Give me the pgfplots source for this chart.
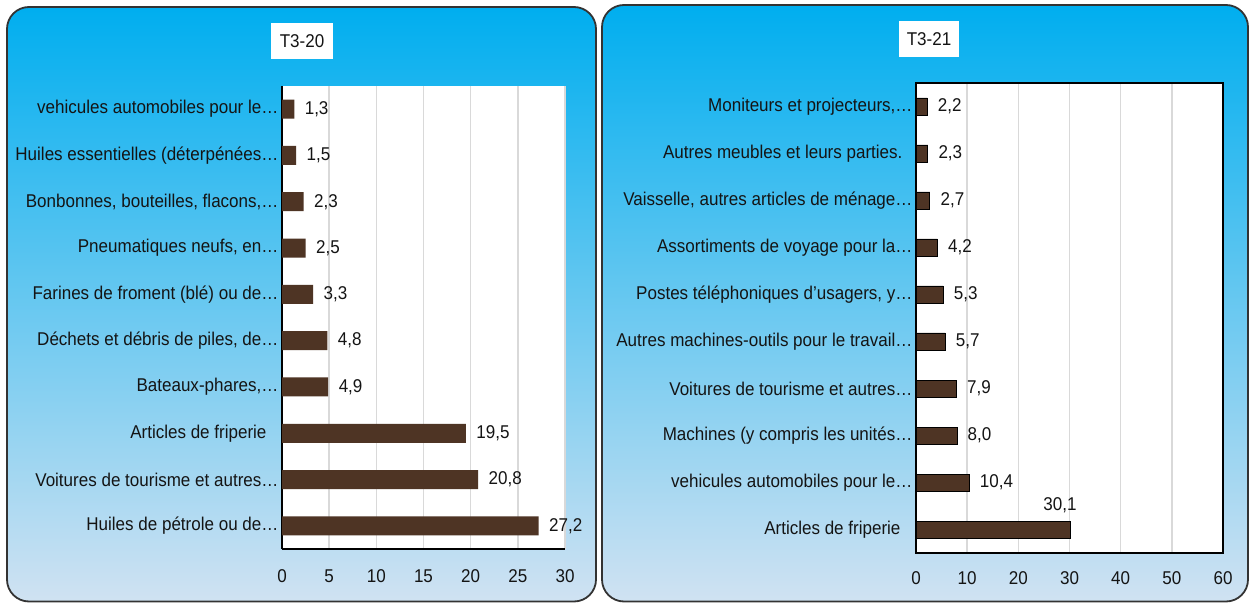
\documentclass[border=0pt]{standalone}
\usepackage{fontspec}
\setmainfont[FakeStretch=0.92]{Liberation Sans}
\usepackage{pgfplots}
\usepackage{pgfplotstable}
\pgfplotsset{compat=1.18}
\newcommand\fs{\fontsize{18.5}{21}\selectfont}
\definecolor{barbrown}{RGB}{78,52,36}
\definecolor{gridgray}{RGB}{217,217,217}
\definecolor{topblue}{RGB}{0,174,239}
\definecolor{botblue}{RGB}{208,226,242}
\definecolor{txt}{RGB}{20,20,20}

\pgfplotstableread{
i v
0 27.2
1 20.8
2 19.5
3 4.9
4 4.8
5 3.3
6 2.5
7 2.3
8 1.5
9 1.3
}\lefttab

\pgfplotstableread{
i v
1 10.4
2 8.0
3 7.9
4 5.7
5 5.3
6 4.2
7 2.7
8 2.3
9 2.2
}\righttab

\pgfplotstableread{
i v
0 30.1
}\righttop

\pgfplotsset{
  mystyle/.style={
    scale only axis,
    /pgf/number format/assume math mode=true,
    axis background/.style={fill=white},
    xmajorgrids,
    grid style={line width=1.5pt, color=gridgray},
    major tick length=0pt,
    ymin=-0.5, ymax=9.5,
    ytick={0,...,9},
    every tick label/.append style={font=\fs, text=txt},
    clip=false,
  },
  lbl/.style={nodes near coords={\pgfmathprintnumber[fixed,fixed zerofill,precision=1,use comma]{\pgfplotspointmeta}},
    every node near coord/.append style={font=\fs, text=txt}},
}

\begin{document}
\begin{tikzpicture}
\path (0pt,0pt) rectangle (1250pt,603pt);
\draw[rounded corners=22pt, top color=topblue, bottom color=botblue, draw=black!80, line width=1.8pt]
  (7pt,1.5pt) rectangle (596pt,596pt);
\draw[rounded corners=22pt, top color=topblue, bottom color=botblue, draw=black!80, line width=1.8pt]
  (602pt,1.5pt) rectangle (1248pt,598pt);
\node[fill=white, minimum width=62pt, minimum height=36pt, inner sep=0pt, font=\fs, text=txt] at (302pt,562pt) {T3-20};
\node[fill=white, minimum width=60pt, minimum height=36pt, inner sep=0pt, font=\fs, text=txt] at (929pt,564pt) {T3-21};

\begin{axis}[mystyle,
  at={(282pt,54pt)}, anchor=south west,
  width=283pt, height=463pt,
  xmin=0, xmax=30, xtick={0,5,...,30},
  axis x line=bottom, axis y line=left,
  axis line style={-, black, line width=1.2pt},
  xticklabel style={yshift=-17pt},
  yticklabels={{Huiles de pétrole ou de…},{Voitures de tourisme et autres…},{Articles de friperie\hspace*{12pt}},{Bateaux-phares,…},{Déchets et débris de piles, de…},{Farines de froment (blé) ou de…},{Pneumatiques neufs, en…},{Bonbonnes, bouteilles, flacons,…},{Huiles essentielles (déterpénées…},{vehicules automobiles pour le…}},
]
\addplot[xbar, bar shift=0pt, bar width=19pt, fill=barbrown, draw=none, lbl,
  every node near coord/.append style={anchor=west, xshift=7pt}]
  table[x=v,y=i]{\lefttab};
\end{axis}

\begin{axis}[mystyle,
  at={(916pt,50pt)}, anchor=south west,
  width=307pt, height=470pt,
  xmin=0, xmax=60, xtick={0,10,...,60},
  axis line style={black, line width=1.5pt},
  xticklabel style={yshift=-15pt},
  yticklabels={{Articles de friperie\hspace*{12pt}},{vehicules automobiles pour le…},{Machines (y compris les unités…},{Voitures de tourisme et autres…},{Autres machines-outils pour le travail…},{Postes téléphoniques d'usagers, y…},{Assortiments de voyage pour la…},{Vaisselle, autres articles de ménage…},{Autres meubles et leurs parties.\hspace*{10pt}},{Moniteurs et projecteurs,…}},
]
\addplot[xbar, bar shift=0pt, bar width=17pt, fill=barbrown, draw=black, line width=0.8pt, lbl,
  every node near coord/.append style={anchor=west, xshift=7pt}]
  table[x=v,y=i]{\righttab};
\addplot[xbar, bar shift=0pt, bar width=17pt, fill=barbrown, draw=black, line width=0.8pt, lbl,
  every node near coord/.append style={anchor=center, xshift=-10pt, yshift=24pt}]
  table[x=v,y=i]{\righttop};
\end{axis}
\end{tikzpicture}
\end{document}
